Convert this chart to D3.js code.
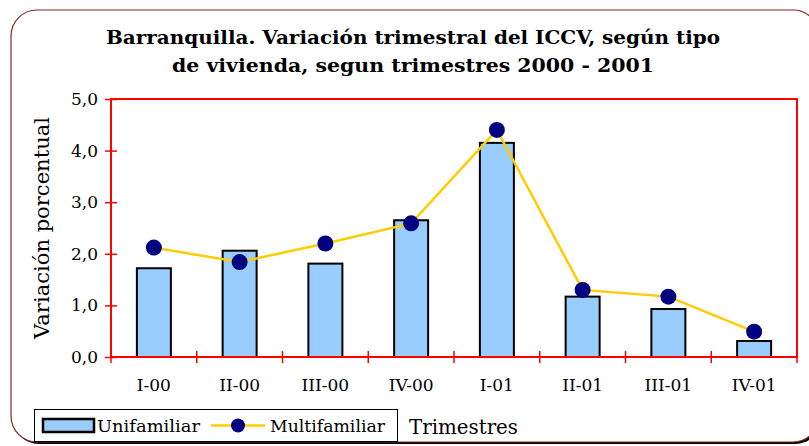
<!DOCTYPE html>
<html>
<head>
<meta charset="utf-8">
<script src="https://cdn.jsdelivr.net/npm/d3@7"></script>
<style>
  body { margin: 0; background: #fff; }
  svg { display: block; }
</style>
</head>
<body>
<svg id="chart" width="809" height="446"></svg>
<script>
const trimestres = ["I-00", "II-00", "III-00", "IV-00", "I-01", "II-01", "III-01", "IV-01"];
const unifamiliar = [1.72, 2.06, 1.81, 2.65, 4.15, 1.17, 0.93, 0.31];
const multifamiliar = [2.12, 1.84, 2.20, 2.59, 4.40, 1.30, 1.17, 0.49];
const yTicks = [0, 1, 2, 3, 4, 5];

const svg = d3.select("#chart");
const serif = "'DejaVu Serif', 'Liberation Serif', serif";

// outer frame with rounded corners
svg.append("rect")
  .attr("x", 13).attr("y", 12)
  .attr("width", 808).attr("height", 432)
  .attr("rx", 26)
  .attr("fill", "#000");
svg.append("rect")
  .attr("x", 11).attr("y", 10)
  .attr("width", 808).attr("height", 432)
  .attr("rx", 26)
  .attr("fill", "#fff")
  .attr("stroke", "#8b2323")
  .attr("stroke-width", 1.2);

// title
const title = svg.append("text")
  .attr("text-anchor", "middle")
  .attr("font-family", serif)
  .attr("font-weight", "bold")
  .attr("font-size", "19px")
  .attr("fill", "#000");
title.append("tspan").attr("x", 413).attr("y", 44)
  .attr("textLength", 614).attr("lengthAdjust", "spacingAndGlyphs")
  .text("Barranquilla. Variación trimestral del ICCV, según tipo");
title.append("tspan").attr("x", 413).attr("y", 72)
  .attr("textLength", 482).attr("lengthAdjust", "spacingAndGlyphs")
  .text("de vivienda, segun trimestres  2000 - 2001");

const plotLeft = 111, plotRight = 797, plotTop = 99, plotBottom = 357;

const xc = d3.scalePoint().domain(trimestres).range([plotLeft, plotRight]).padding(0.5);
const y = d3.scaleLinear().domain([0, 5]).range([plotBottom, plotTop]);
const barW = 34;

// bars
svg.append("g").selectAll("rect")
  .data(unifamiliar)
  .enter()
  .append("rect")
  .attr("x", (d, i) => xc(trimestres[i]) - barW / 2)
  .attr("width", barW)
  .attr("y", d => y(d))
  .attr("height", d => y(0) - y(d))
  .attr("fill", "#99ccff")
  .attr("stroke", "#000")
  .attr("stroke-width", 2);

// plot border
svg.append("rect")
  .attr("x", plotLeft).attr("y", plotTop)
  .attr("width", plotRight - plotLeft).attr("height", plotBottom - plotTop)
  .attr("fill", "none")
  .attr("stroke", "#ff0000")
  .attr("stroke-width", 2);

// y axis
const yAxis = svg.append("g")
  .attr("transform", `translate(${plotLeft},0)`)
  .call(d3.axisLeft(y).tickValues(yTicks).tickSize(6).tickFormat(d => d3.format(".1f")(d).replace(".", ",")));
yAxis.select(".domain").remove();
yAxis.selectAll(".tick line").attr("stroke", "#ff0000").attr("stroke-width", 1.5).attr("x2", 6).attr("x1", -6);
yAxis.selectAll(".tick text")
  .attr("x", -13)
  .attr("font-family", serif)
  .attr("font-size", "17px")
  .attr("fill", "#000");

// x axis ticks (between categories)
const xTickPos = d3.range(trimestres.length + 1).map(i => plotLeft + i * (plotRight - plotLeft) / trimestres.length);
svg.append("g").selectAll("line")
  .data(xTickPos)
  .enter()
  .append("line")
  .attr("x1", d => d).attr("x2", d => d)
  .attr("y1", plotBottom - 6).attr("y2", plotBottom + 6)
  .attr("stroke", "#ff0000")
  .attr("stroke-width", 1.5);

svg.append("g").selectAll("text")
  .data(trimestres)
  .enter()
  .append("text")
  .attr("x", d => xc(d))
  .attr("y", 391)
  .attr("text-anchor", "middle")
  .attr("font-family", serif)
  .attr("font-size", "17px")
  .attr("fill", "#000")
  .text(d => d);

// y label
svg.append("text")
  .attr("transform", `translate(49,${(plotTop + plotBottom) / 2}) rotate(-90)`)
  .attr("text-anchor", "middle")
  .attr("font-family", serif)
  .attr("font-size", "20px")
  .attr("fill", "#000")
  .attr("textLength", 222).attr("lengthAdjust", "spacingAndGlyphs")
  .text("Variación porcentual");

// line series
const line = d3.line()
  .x((d, i) => xc(trimestres[i]))
  .y(d => y(d));

svg.append("path")
  .datum(multifamiliar)
  .attr("d", line)
  .attr("fill", "none")
  .attr("stroke", "#ffcc00")
  .attr("stroke-width", 2.5);

svg.append("g").selectAll("circle")
  .data(multifamiliar)
  .enter()
  .append("circle")
  .attr("cx", (d, i) => xc(trimestres[i]))
  .attr("cy", d => y(d))
  .attr("r", 8)
  .attr("fill", "#000080");

// legend
const lg = svg.append("g");
lg.append("rect")
  .attr("x", 34.5).attr("y", 409.5)
  .attr("width", 363).attr("height", 32)
  .attr("fill", "#fff")
  .attr("stroke", "#000")
  .attr("stroke-width", 1);
lg.append("rect")
  .attr("x", 43).attr("y", 419)
  .attr("width", 51).attr("height", 13)
  .attr("fill", "#99ccff")
  .attr("stroke", "#000")
  .attr("stroke-width", 2.5);
lg.append("text")
  .attr("x", 97).attr("y", 432)
  .attr("font-family", serif)
  .attr("font-size", "16px")
  .attr("textLength", 103).attr("lengthAdjust", "spacingAndGlyphs")
  .text("Unifamiliar");
lg.append("line")
  .attr("x1", 211).attr("x2", 265)
  .attr("y1", 425.5).attr("y2", 425.5)
  .attr("stroke", "#ffcc00")
  .attr("stroke-width", 2.5);
lg.append("circle")
  .attr("cx", 238).attr("cy", 425.5)
  .attr("r", 7)
  .attr("fill", "#000080");
lg.append("text")
  .attr("x", 270).attr("y", 432)
  .attr("font-family", serif)
  .attr("font-size", "16px")
  .attr("textLength", 115).attr("lengthAdjust", "spacingAndGlyphs")
  .text("Multifamiliar");

svg.append("text")
  .attr("x", 409).attr("y", 434)
  .attr("font-family", serif)
  .attr("font-size", "20px")
  .attr("textLength", 109).attr("lengthAdjust", "spacingAndGlyphs")
  .text("Trimestres");
</script>
</body>
</html>
